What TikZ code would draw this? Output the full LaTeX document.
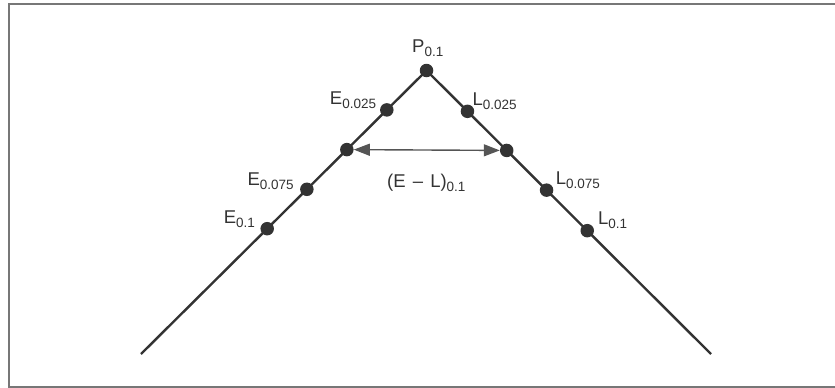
\documentclass[tikz,border=0pt]{standalone}
\usepackage{fontspec}
\setmainfont{Liberation Sans}
\usetikzlibrary{arrows.meta,calc}
\definecolor{ink}{HTML}{333333}
\definecolor{framegray}{HTML}{777777}
\definecolor{dimgray}{HTML}{555555}
\newcommand\lsub[1]{\raisebox{-4pt}{\fontsize{13.5}{13.5}\selectfont #1}}
\tikzset{
	dot/.style={circle,fill=ink,inner sep=0pt,minimum size=13.5pt},
	lbl/.style={inner sep=0pt,font=\fontsize{18.5}{18.5}\selectfont,text=ink},
	branch/.style={draw=ink,line width=2.4pt},
	dimline/.style={draw=dimgray,line width=1.4pt,{Triangle[length=16pt,width=12pt]}-{Triangle[length=16pt,width=12pt]}}
}
\begin{document}
\begin{tikzpicture}[x=1pt,y=-1pt]
	\useasboundingbox(0,0)rectangle(835,388);
	\draw[framegray,line width=1.3pt](835,4)--(9,4)--(9,387)--(835,387);
	\coordinate(P)at(426.5,70.5);
	\coordinate(Eend)at(141,354);
	\coordinate(Lend)at(711,354);
	\draw[branch](Eend)--(P)--(Lend);
	% points on the two branches
	\node[dot](p)at(P){};
	\node[dot](e1)at($(P)!0.139!(Eend)$){};
	\node[dot](e2)at($(P)!0.279!(Eend)$){};
	\node[dot](e3)at($(P)!0.419!(Eend)$){};
	\node[dot](e4)at($(P)!0.558!(Eend)$){};
	\node[dot](l1)at($(P)!0.144!(Lend)$){};
	\node[dot](l2)at($(P)!0.282!(Lend)$){};
	\node[dot](l3)at($(P)!0.422!(Lend)$){};
	\node[dot](l4)at($(P)!0.565!(Lend)$){};
	\draw[dimline](e2)--(l2);
	% labels
	\node[lbl,anchor=base west](pl)at([shift={(-14.5,-18.5)}]p){P\lsub{0.1}};
	\node[lbl,anchor=base east](e1l)at([shift={(-10.5,-5.7)}]e1){E\lsub{0.025}};
	\node[lbl,anchor=base east](e3l)at([shift={(-13,-4)}]e3){E\lsub{0.075}};
	\node[lbl,anchor=base east](e4l)at([shift={(-12,-5.3)}]e4){E\lsub{0.1}};
	\node[lbl,anchor=base west](l1l)at([shift={(5,-6)}]l1){L\lsub{0.025}};
	\node[lbl,anchor=base west](l3l)at([shift={(9,-5.5)}]l3){L\lsub{0.075}};
	\node[lbl,anchor=base west](l4l)at([shift={(10.6,-6)}]l4){L\lsub{0.1}};
	\node[lbl,anchor=base west](dl)at(387,187){(E\hspace{2pt} -- \hspace{2pt}L)\lsub{0.1}};
\end{tikzpicture}
\end{document}
